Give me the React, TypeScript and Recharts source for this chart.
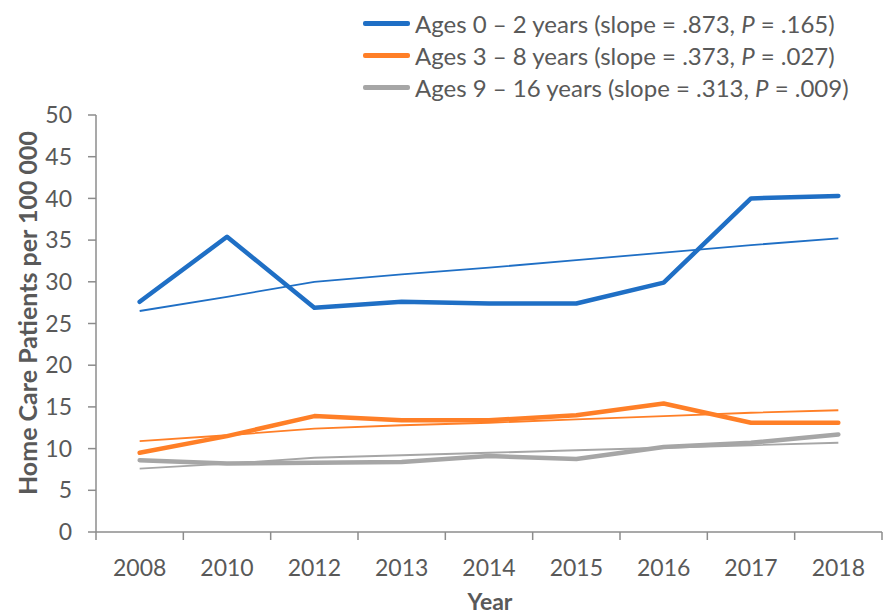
import { LineChart, Line, XAxis, YAxis } from "recharts";

const years = ["2008", "2010", "2012", "2013", "2014", "2015", "2016", "2017", "2018"];

// observed rates per 100 000
const ages0to2 = [27.6, 35.4, 26.9, 27.6, 27.4, 27.4, 29.9, 40.0, 40.3];
const ages3to8 = [9.5, 11.5, 13.9, 13.4, 13.4, 14.0, 15.4, 13.1, 13.1];
const ages9to16 = [8.6, 8.2, 8.3, 8.4, 9.1, 8.75, 10.2, 10.7, 11.7];

// linear trend lines
const trend0to2 = [26.5, 28.2, 30.0, 30.9, 31.7, 32.6, 33.5, 34.4, 35.2];
const trend3to8 = [10.9, 11.6, 12.4, 12.8, 13.1, 13.5, 13.9, 14.3, 14.6];
const trend9to16 = [7.6, 8.2, 8.9, 9.2, 9.5, 9.8, 10.1, 10.4, 10.7];

const yTicks = [0, 5, 10, 15, 20, 25, 30, 35, 40, 45, 50];

const legendItems = [
  { label: "Ages 0 – 2 years (slope = .873, ", p: " = .165)", color: "#1f6fc5" },
  { label: "Ages 3 – 8 years (slope = .373, ", p: " = .027)", color: "#ff7f27" },
  { label: "Ages 9 – 16 years (slope = .313, ", p: " = .009)", color: "#a6a6a6" },
];

const data = years.map((year, i) => ({
  year,
  a: ages0to2[i],
  b: ages3to8[i],
  c: ages9to16[i],
  ta: trend0to2[i],
  tb: trend3to8[i],
  tc: trend9to16[i],
}));

const FONT = "Lato, 'Open Sans', sans-serif";
const TEXT = "#595959";
const AXIS = "#8c8c8c";
const W = 887;
const H = 616;
const LEFT = 96;
const RIGHT = 5;
const BW = (W - LEFT - RIGHT) / years.length;

function XTick(props: any) {
  const { x, y, payload, index } = props;
  return (
    <g>
      <line x1={x - BW / 2} x2={x - BW / 2} y1={y} y2={y + 8} stroke={AXIS} strokeWidth={1.5} />
      {index === years.length - 1 && (
        <line x1={x + BW / 2} x2={x + BW / 2} y1={y} y2={y + 8} stroke={AXIS} strokeWidth={1.5} />
      )}
      <text x={x} y={y + 44} textAnchor="middle" fill={TEXT} fontSize={23} fontFamily={FONT}>
        {payload.value}
      </text>
    </g>
  );
}

export default function App() {
  return (
    <div style={{ position: "absolute", left: 0, top: 0, width: W, height: H, background: "#fff", fontFamily: FONT }}>
      <LineChart width={W} height={H} data={data} margin={{ top: 115, right: RIGHT, bottom: 0, left: 0 }}>
        <XAxis
          dataKey="year"
          height={84}
          padding={{ left: BW / 2, right: BW / 2 }}
          tickLine={false}
          tickSize={0}
          tickMargin={0}
          axisLine={{ stroke: AXIS, strokeWidth: 1.5 }}
          tick={<XTick />}
          interval={0}
        />
        <YAxis
          width={LEFT}
          domain={[0, 50]}
          ticks={yTicks}
          interval={0}
          tickSize={8}
          tickMargin={16}
          axisLine={{ stroke: AXIS, strokeWidth: 1.5 }}
          tickLine={{ stroke: AXIS, strokeWidth: 1.5 }}
          tick={{ fill: TEXT, fontSize: 23, fontFamily: FONT }}
        />
        <Line dataKey="ta" stroke="#1f6fc5" strokeWidth={1.8} dot={false} isAnimationActive={false} />
        <Line dataKey="tb" stroke="#ff7f27" strokeWidth={1.8} dot={false} isAnimationActive={false} />
        <Line dataKey="tc" stroke="#a6a6a6" strokeWidth={1.8} dot={false} isAnimationActive={false} />
        <Line type="linear" dataKey="c" stroke="#a6a6a6" strokeWidth={4.5} strokeLinejoin="round" strokeLinecap="round" dot={false} isAnimationActive={false} />
        <Line type="linear" dataKey="b" stroke="#ff7f27" strokeWidth={4.5} strokeLinejoin="round" strokeLinecap="round" dot={false} isAnimationActive={false} />
        <Line type="linear" dataKey="a" stroke="#1f6fc5" strokeWidth={4.5} strokeLinejoin="round" strokeLinecap="round" dot={false} isAnimationActive={false} />
      </LineChart>

      <div
        style={{
          position: "absolute",
          left: 27,
          top: 313,
          transform: "translate(-50%, -50%) rotate(-90deg)",
          whiteSpace: "nowrap",
          fontWeight: 700,
          fontSize: 25,
          color: TEXT,
        }}
      >
        Home Care Patients per 100 000
      </div>
      <div
        style={{
          position: "absolute",
          left: 490,
          top: 601,
          transform: "translate(-50%, -50%)",
          fontWeight: 700,
          fontSize: 23,
          color: TEXT,
          lineHeight: "26px",
        }}
      >
        Year
      </div>

      <div style={{ position: "absolute", left: 363, top: 7 }}>
        {legendItems.map((item) => (
          <div key={item.label} style={{ display: "flex", alignItems: "center", height: 32, color: TEXT, fontSize: 24, whiteSpace: "nowrap" }}>
            <span style={{ display: "inline-block", width: 47, height: 5, background: item.color, borderRadius: 2, marginRight: 5 }} />
            <span>
              {item.label}
              <i>P</i>
              {item.p}
            </span>
          </div>
        ))}
      </div>
    </div>
  );
}
